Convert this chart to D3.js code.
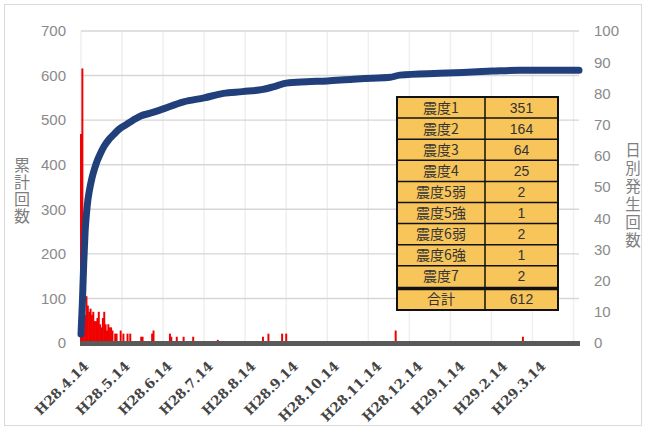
<!DOCTYPE html>
<html><head><meta charset="utf-8">
<script src="https://cdn.jsdelivr.net/npm/d3@7/dist/d3.min.js"></script>
<style>
html,body{margin:0;padding:0;background:#fff;}
svg{display:block;}
</style></head>
<body>
<svg id="chart" width="645" height="432"></svg>
<script>
// ---------- data ----------
const leftTicks = [0, 100, 200, 300, 400, 500, 600, 700];
const rightTicks = [0, 10, 20, 30, 40, 50, 60, 70, 80, 90, 100];
const xTickDays = [0, 30, 61, 91, 122, 153, 183, 214, 244, 275, 306, 334];
const xTickLabels = ["H28.4.14", "H28.5.14", "H28.6.14", "H28.7.14", "H28.8.14", "H28.9.14",
  "H28.10.14", "H28.11.14", "H28.12.14", "H29.1.14", "H29.2.14", "H29.3.14"];
// cumulative count (left axis), sampled by day index from H28.4.14
const cumDays = [0, 1, 2, 3, 4, 5, 6, 8, 10, 12, 14, 17, 20, 24, 28, 33, 38, 44, 50, 58, 75, 90, 104, 118, 133, 143, 150, 165, 180, 199, 213, 226, 233, 262, 279, 301, 320, 364];
const cumValues = [20, 90, 180, 250, 290, 320, 340, 370, 392, 410, 424, 442, 455, 468, 480, 490, 500, 510, 515, 523, 541, 550, 560, 564, 569, 577, 583, 586, 588, 592, 594, 596, 601, 605, 607, 610, 612, 612];
// daily count (right axis), non-zero days
const dailyDays = [0, 1, 2, 3, 4, 5, 6, 7, 8, 9, 10, 11, 12, 13, 14, 15, 16, 17, 18, 19, 20, 21, 22, 23, 25, 26, 29, 31, 34, 36, 44, 45, 52, 53, 65, 66, 70, 75, 82, 100, 133, 137, 147, 150, 230, 323];
const dailyCounts = [67, 88, 8, 9, 15, 12, 10, 11, 9, 10, 7, 7, 8, 10, 6, 5, 8, 10, 6, 4, 6, 5, 5, 4, 3, 3, 4, 3, 3, 3, 2, 2, 3, 4, 3, 2, 2, 2, 2, 1, 2, 3, 3, 3, 4, 2];
// table
const tableLabels = ["震度1", "震度2", "震度3", "震度4", "震度5弱", "震度5強", "震度6弱", "震度6強", "震度7", "合計"];
const tableValues = [351, 164, 64, 25, 2, 1, 2, 1, 2, 612];
const leftTitle = "累計回数";
const rightTitle = "日別発生回数";

// ---------- layout ----------
const svg = d3.select("#chart");
const X0 = 81, X1 = 579, YT = 31, YB = 343;
const x = d3.scaleLinear().domain([0, 364]).range([X0, X1]);
const yL = d3.scaleLinear().domain([0, 700]).range([YB, YT]);
const yR = d3.scaleLinear().domain([0, 100]).range([YB, YT]);

// outer border
svg.append("rect").attr("x", 4.5).attr("y", 4.5).attr("width", 637).attr("height", 421)
  .attr("fill", "#fff").attr("stroke", "#d9d9d9").attr("stroke-width", 1);

// vertical gridlines every 30 days
svg.append("g").selectAll("line").data(d3.range(0, 365, 30)).join("line")
  .attr("x1", d => x(d)).attr("x2", d => x(d)).attr("y1", YT).attr("y2", YB)
  .attr("stroke", "#efefef").attr("stroke-width", 1.5);

// horizontal gridlines
svg.append("g").selectAll("line").data(leftTicks).join("line")
  .attr("x1", X0).attr("x2", X1).attr("y1", d => yL(d)).attr("y2", d => yL(d))
  .attr("stroke", "#d6d6d6").attr("stroke-width", 1.4);

// daily bars
const bw = x(1) - x(0);
svg.append("g").selectAll("rect").data(dailyDays).join("rect")
  .attr("x", d => x(d) - bw / 2 - 0.3).attr("width", bw + 0.6)
  .attr("y", (d, i) => yR(dailyCounts[i])).attr("height", (d, i) => YB - yR(dailyCounts[i]))
  .attr("fill", "#f00000");

// cumulative line
const line = d3.line().x(d => x(d[0])).y(d => yL(d[1])).curve(d3.curveMonotoneX);
svg.append("path").datum(cumDays.map((d, i) => [d, cumValues[i]]))
  .attr("d", line).attr("fill", "none").attr("stroke", "#21407b")
  .attr("stroke-width", 7).attr("stroke-linecap", "round").attr("stroke-linejoin", "round");

// baseline (thick gray)
svg.append("line").attr("x1", X0 - 1).attr("x2", X1 + 1).attr("y1", YB + 0.5).attr("y2", YB + 0.5)
  .attr("stroke", "#5a5a5a").attr("stroke-width", 5);

// left axis labels
const gl = svg.append("g").attr("transform", `translate(${X0},0)`)
  .call(d3.axisLeft(yL).tickValues(leftTicks).tickSize(0).tickPadding(15));
gl.select(".domain").remove();
gl.selectAll("text").attr("font-family", "Liberation Sans, Arial, sans-serif").attr("font-size", 15).attr("fill", "#8a8a8a");

// right axis labels
const gr = svg.append("g").attr("transform", `translate(${X1},0)`)
  .call(d3.axisRight(yR).tickValues(rightTicks).tickSize(0).tickPadding(15));
gr.select(".domain").remove();
gr.selectAll("text").attr("font-family", "Liberation Sans, Arial, sans-serif").attr("font-size", 15).attr("fill", "#8a8a8a");

// x axis labels (rotated)
const gx = svg.append("g").attr("transform", `translate(0,${YB})`)
  .call(d3.axisBottom(x).tickValues(xTickDays).tickSize(0).tickFormat((d, i) => xTickLabels[i]));
gx.select(".domain").remove();
gx.selectAll("text")
  .attr("x", 0).attr("y", 0).attr("dy", 0)
  .attr("transform", "translate(8,24) rotate(-45)")
  .attr("text-anchor", "end")
  .attr("font-family", "DejaVu Serif, serif").attr("font-weight", "bold")
  .attr("font-size", 13.5).attr("fill", "#444");

// axis titles (vertical writing)
svg.append("text").attr("x", 22).attr("y", 157)
  .style("writing-mode", "vertical-rl").style("letter-spacing", "1px")
  .attr("font-family", "Noto Sans CJK JP").attr("font-size", 16).attr("fill", "#7f7f7f")
  .text(leftTitle);
svg.append("text").attr("x", 633).attr("y", 142)
  .style("writing-mode", "vertical-rl").style("letter-spacing", "2.5px")
  .attr("font-family", "Noto Sans CJK JP").attr("font-size", 15.5).attr("fill", "#7f7f7f")
  .text(rightTitle);

// table
const TX = 397, TW1 = 88, TW2 = 73, TY = 97, RH = 21.1;
const tg = svg.append("g");
const rowY = i => TY + i * RH + (i === 9 ? 1.5 : 0);
tg.append("rect").attr("x", TX).attr("y", TY).attr("width", TW1 + TW2).attr("height", rowY(9) + RH + 0.5 - TY)
  .attr("fill", "#f8c55a").attr("stroke", "#111").attr("stroke-width", 2);
tg.selectAll("line.r").data(d3.range(1, 10)).join("line")
  .attr("x1", TX).attr("x2", TX + TW1 + TW2)
  .attr("y1", i => rowY(i)).attr("y2", i => rowY(i))
  .attr("stroke", "#111").attr("stroke-width", i => i === 9 ? 3.5 : 1.5);
tg.append("line").attr("x1", TX + TW1).attr("x2", TX + TW1).attr("y1", TY).attr("y2", rowY(9) + RH + 0.5)
  .attr("stroke", "#111").attr("stroke-width", 1.5);
tg.selectAll("text.l").data(tableLabels).join("text")
  .attr("x", TX + TW1 / 2).attr("y", (d, i) => rowY(i) + RH / 2 + 5)
  .attr("text-anchor", "middle").attr("font-family", "Noto Sans CJK JP").attr("font-size", 14)
  .attr("fill", "#333").text(d => d);
tg.selectAll("text.v").data(tableValues).join("text")
  .attr("x", TX + TW1 + TW2 / 2).attr("y", (d, i) => rowY(i) + RH / 2 + 5)
  .attr("text-anchor", "middle").attr("font-family", "Liberation Sans, Arial, sans-serif").attr("font-size", 14)
  .attr("fill", "#333").text(d => d);
</script>
</body></html>
